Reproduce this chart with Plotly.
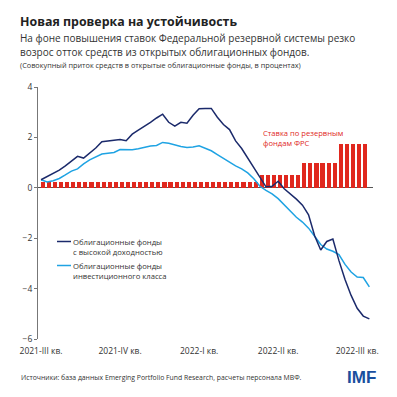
import plotly.graph_objects as go

weeks_bars = list(range(54))
fed_rate = [0.25]*36 + [0.5]*7 + [1.0]*6 + [1.75]*5

weeks_lines = list(range(55))
high_yield = [0.32, 0.45, 0.60, 0.70, 0.87, 1.07, 1.25, 1.18, 1.38, 1.58,
              1.83, 1.86, 1.88, 1.92, 1.87, 2.13, 2.29, 2.43, 2.60, 2.77,
              2.92, 2.60, 2.45, 2.60, 2.56, 2.88, 3.14, 3.15, 3.15, 2.80,
              2.51, 2.31, 1.86, 1.56, 1.17, 0.83, 0.43, 0.04, 0.06, 0.26,
              -0.04, -0.24, -0.45, -0.69, -1.07, -1.90, -2.47, -2.13, -2.03, -2.89,
              -3.64, -4.27, -4.78, -5.09, -5.20]
inv_grade = [0.32, 0.23, 0.28, 0.37, 0.51, 0.66, 0.75, 0.95, 1.11, 1.21,
             1.34, 1.37, 1.40, 1.52, 1.50, 1.51, 1.55, 1.61, 1.66, 1.68,
             1.80, 1.77, 1.70, 1.64, 1.60, 1.62, 1.67, 1.58, 1.47, 1.32,
             1.17, 1.01, 0.87, 0.75, 0.59, 0.36, 0.06, -0.10, -0.24, -0.43,
             -0.67, -0.89, -1.17, -1.36, -1.60, -1.92, -2.25, -2.43, -2.52, -2.65,
             -3.04, -3.34, -3.54, -3.56, -3.93]

tick_pos = [0, 13, 26, 39, 52]
tick_labels = ["2021-III кв.", "2021-IV кв.", "2022-I кв.", "2022-II кв.", "2022-III кв."]
y_ticks = [-6, -4, -2, 0, 2, 4]

RED = "#E0281E"
NAVY = "#1B2A6B"
LIGHT = "#1FA3E3"
FONT = "Open Sans"

W, H = 397, 397
ML, MR, MT, MB = 38, 24, 87, 58

fig = go.Figure()
fig.add_trace(go.Bar(x=[w + 0.3 for w in weeks_bars], y=fed_rate, marker_color=RED,
                     marker_line_width=0, width=0.68, showlegend=False))
fig.add_trace(go.Scatter(x=weeks_lines, y=inv_grade, mode="lines",
                         line=dict(color=LIGHT, width=1.5), showlegend=False))
fig.add_trace(go.Scatter(x=weeks_lines, y=high_yield, mode="lines",
                         line=dict(color=NAVY, width=1.5), showlegend=False))

fig.update_layout(
    width=W, height=H,
    margin=dict(l=ML, r=MR, t=MT, b=MB),
    paper_bgcolor="white", plot_bgcolor="white",
    font=dict(family=FONT, color="#333333", size=9),
    bargap=0,
    xaxis=dict(range=[-0.5, 54.6], tickmode="array", tickvals=tick_pos, ticktext=tick_labels,
               showgrid=False, zeroline=False, showline=False, ticks="outside",
               ticklen=4, tickcolor="rgba(0,0,0,0)",
               tickfont=dict(size=8.5, color="#333333")),
    yaxis=dict(range=[-6, 4], tickvals=y_ticks, showgrid=False,
               zeroline=True, zerolinecolor="#555555", zerolinewidth=1,
               showline=True, linecolor="#777777", linewidth=1,
               ticks="outside", ticklen=3, tickcolor="#777777",
               tickfont=dict(size=8.5, color="#333333")),
)

def px_x(p):
    return (p - ML) / (W - ML - MR)

def px_y(p):
    return 1 - (p - MT) / (H - MT - MB)

texts = [
    ("<b>Новая проверка на устойчивость</b>", 18, 21, dict(size=12.4, color="#222222")),
    ("На фоне повышения ставок Федеральной резервной системы резко", 18, 38, dict(size=10, color="#333333")),
    ("возрос отток средств из открытых облигационных фондов.", 18, 52, dict(size=10, color="#333333")),
    ("(Совокупный приток средств в открытые облигационные фонды, в процентах)", 18, 65, dict(size=7.3, color="#333333")),
    ("Облигационные фонды<br>с высокой доходностью", 71, 247, dict(size=7.7, color="#333333")),
    ("Облигационные фонды<br>инвестиционного класса", 71, 271, dict(size=7.7, color="#333333")),
    ("Ставка по резервным<br>фондам ФРС", 261, 138, dict(size=7.6, color=RED)),
    ("Источники: база данных Emerging Portfolio Fund Research, расчеты персонала МВФ.", 19, 377, dict(size=6.85, color="#333333")),
    ("<b>IMF</b>", 345, 377, dict(size=17, color="#1A4F9E", family="Arial")),
]
anns = []
for t, x, y, f in texts:
    anns.append(dict(text=t, x=px_x(x), y=px_y(y), xref="paper", yref="paper",
                     xanchor="left", yanchor="middle", showarrow=False, align="left", font=f))
fig.update_layout(annotations=anns)

fig.add_shape(type="line", xref="paper", yref="paper", x0=px_x(57), x1=px_x(71), y0=px_y(241.5), y1=px_y(241.5),
              line=dict(color=NAVY, width=1.5))
fig.add_shape(type="line", xref="paper", yref="paper", x0=px_x(57), x1=px_x(71), y0=px_y(265.5), y1=px_y(265.5),
              line=dict(color=LIGHT, width=1.5))

fig.write_html("out.html", config={"displayModeBar": False},
               post_script="document.body.style.margin='0';document.body.style.padding='0';")
